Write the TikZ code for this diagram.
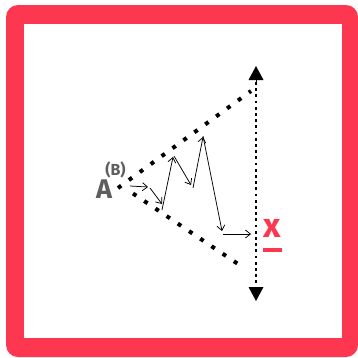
\documentclass[tikz,border=0pt]{standalone}
\usepackage{fontspec}
\setmainfont{Fira Sans}
\usetikzlibrary{arrows.meta}
\definecolor{framered}{HTML}{FD374F}
\definecolor{agray}{HTML}{5E5E5E}
\tikzset{
  bigdots/.style={line width=4pt, dash pattern=on 4pt off 9.5pt, line cap=butt},
  smalldots/.style={line width=2.8pt, dash pattern=on 2.8pt off 3.4pt},
  zig/.style={line width=0.75pt, -{Straight Barb[length=5pt,width=8pt]}},
}
\begin{document}
\begin{tikzpicture}[x=1pt,y=-1pt]
\useasboundingbox (0,0) rectangle (358,357);
\fill[framered] (6,5) [rounded corners=12pt] rectangle (358,357);
\fill[white] (24,24) rectangle (342,338);
% vertical line
\coordinate (vt) at (256,66);
\coordinate (vb) at (256,301);
\draw[smalldots] (256,82) -- (256,286);
\draw[line width=0pt, -{Triangle[length=14pt,width=15pt]}] (256,81) -- (vt);
\draw[line width=0pt, -{Triangle[length=14pt,width=15pt]}] (256,287) -- (vb);
% A node
\node[text=agray, font=\bfseries\fontsize{27}{27}\selectfont, inner sep=0pt] (A) at (104,189) {A};
\node[text=agray, font=\bfseries\fontsize{16}{16}\selectfont, inner sep=0pt] (B) at (115.5,170) {(B)};
% dotted lines
\coordinate (o) at (118,188);
\coordinate (u) at (251,91);
\coordinate (l) at (244,268);
\draw[bigdots] (o) -- (u);
\draw[bigdots] (133,193.5) -- (l);
% zigzag
\coordinate (z1) at (130,186);
\coordinate (z2) at (148,187);
\coordinate (z3) at (150,188);
\coordinate (z4) at (162,204);
\coordinate (z5) at (162,210);
\coordinate (z6) at (173,157);
\coordinate (z7) at (174,156);
\coordinate (z8) at (191,185);
\coordinate (z9) at (193,188);
\coordinate (z10) at (203,137);
\coordinate (z11) at (203,136);
\coordinate (z12) at (222,231);
\coordinate (z13) at (223,234);
\coordinate (z14) at (251,234);
\draw[zig] (z1) -- (z2);
\draw[zig] (z3) -- (z4);
\draw[zig] (z5) -- (z6);
\draw[zig] (z7) -- (z8);
\draw[zig] (z9) -- (z10);
\draw[zig] (z11) -- (z12);
\draw[zig] (z13) -- (z14);
% x label
\node[text=framered, font=\bfseries\fontsize{34}{34}\selectfont, inner sep=0pt] (X) at (272.5,228) {x};
\draw[framered, line width=4pt] (263,250) -- (282,250);
\end{tikzpicture}
\end{document}
